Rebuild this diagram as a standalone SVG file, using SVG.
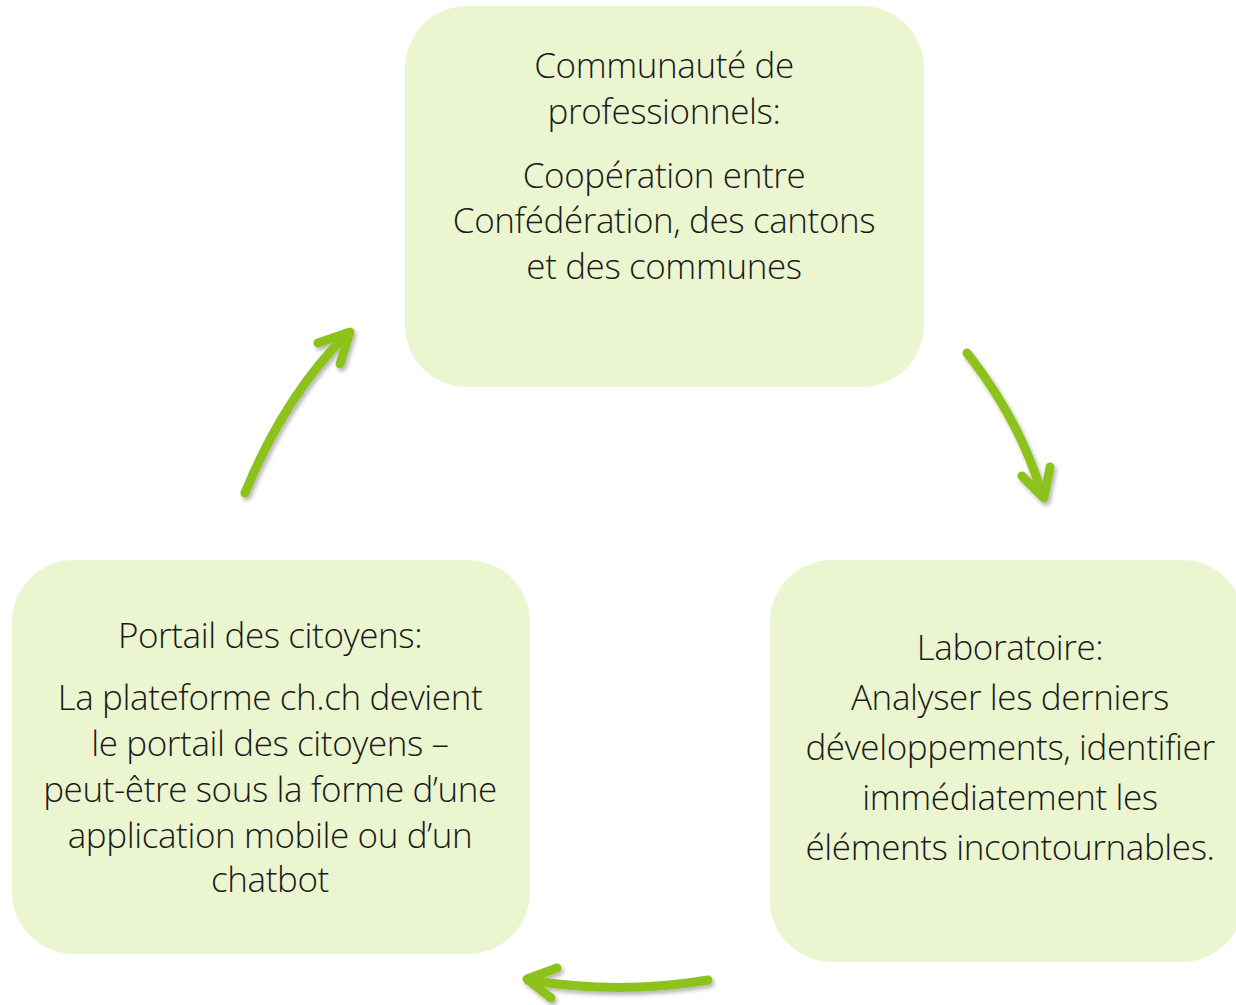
<svg xmlns="http://www.w3.org/2000/svg" width="1236" height="1005" viewBox="0 0 1236 1005">
<defs>
<style>
.box{fill:#EBF5D0;}
.t{font-family:"Open Sans","Liberation Sans",sans-serif;font-weight:300;font-size:35px;fill:#1a1a1a;text-anchor:middle;letter-spacing:-0.4px;}
.arr{fill:none;stroke:#8DC21F;stroke-width:9;stroke-linecap:round;stroke-linejoin:round;}
</style>
<filter id="sh" x="-20%" y="-20%" width="140%" height="140%">
<feGaussianBlur in="SourceAlpha" stdDeviation="2"/>
<feOffset dx="2" dy="3"/>
<feComponentTransfer><feFuncA type="linear" slope="0.3"/></feComponentTransfer>
<feMerge><feMergeNode/><feMergeNode in="SourceGraphic"/></feMerge>
</filter>
</defs>
<rect width="1236" height="1005" fill="#ffffff"/>
<g id="node-communaute">
<rect class="box" x="405" y="6" width="519" height="381" rx="62"/>
<text class="t" x="664" y="78">Communauté de</text>
<text class="t" x="664" y="124">professionnels:</text>
<text class="t" x="664" y="188">Coopération entre</text>
<text class="t" x="664" y="233">Confédération, des cantons</text>
<text class="t" x="664" y="279">et des communes</text>
</g>
<g id="node-laboratoire">
<rect class="box" x="770" y="560" width="474" height="402" rx="62"/>
<text class="t" x="1010" y="660">Laboratoire:</text>
<text class="t" x="1010" y="710">Analyser les derniers</text>
<text class="t" x="1010" y="760">développements, identifier</text>
<text class="t" x="1010" y="810">immédiatement les</text>
<text class="t" x="1010" y="860">éléments incontournables.</text>
</g>
<g id="node-portail">
<rect class="box" x="12" y="560" width="518" height="394" rx="62"/>
<text class="t" x="270" y="648">Portail des citoyens:</text>
<text class="t" x="270" y="710">La plateforme ch.ch devient</text>
<text class="t" x="270" y="756">le portail des citoyens –</text>
<text class="t" x="270" y="802">peut-être sous la forme d’une</text>
<text class="t" x="270" y="848">application mobile ou d’un</text>
<text class="t" x="270" y="892">chatbot</text>
</g>
<g id="connectors" filter="url(#sh)">
<path class="arr" d="M245,493 Q285,395 348,333"/>
<path class="arr" d="M318,343 L350,332 L340,364"/>
<path class="arr" d="M967,353 Q1020,420 1043,497"/>
<path class="arr" d="M1022,476 L1044,498 L1050,467"/>
<path class="arr" d="M708,980 Q620,995 528,980"/>
<path class="arr" d="M557,968 L527,979 L551,998"/>
</g>
</svg>
